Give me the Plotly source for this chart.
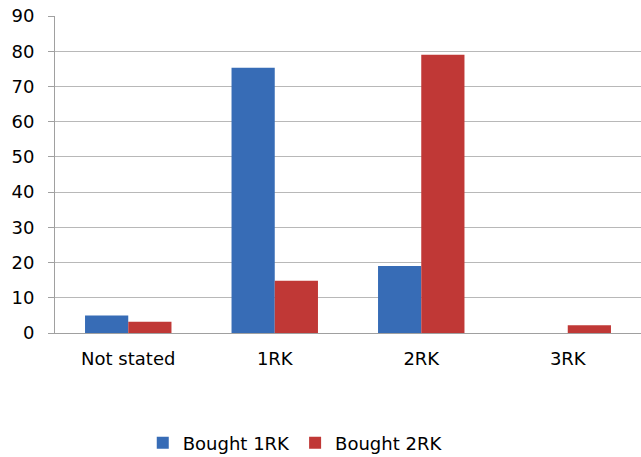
import plotly.graph_objects as go

categories = ["Not stated", "1RK", "2RK", "3RK"]
bought_1rk = [5, 75.3, 19, 0]
bought_2rk = [3.2, 14.8, 79, 2.2]

fig = go.Figure()
fig.add_trace(go.Bar(x=categories, y=bought_1rk, name="Bought 1RK",
                     marker=dict(color="#376cb6", line=dict(width=0))))
fig.add_trace(go.Bar(x=categories, y=bought_2rk, name="Bought 2RK",
                     marker=dict(color="#c03836", line=dict(width=0))))

fig.update_layout(
    width=641, height=457,
    margin=dict(l=55, r=0, t=16, b=124, autoexpand=False),
    paper_bgcolor="white", plot_bgcolor="white",
    barmode="group", bargap=0.41, bargroupgap=0,
    font=dict(family="DejaVu Sans", size=18, color="#000000"),
    showlegend=True,
    legend=dict(orientation="h", x=0.41, xanchor="center", y=-0.347, yanchor="middle",
                font=dict(size=18), itemwidth=30, traceorder="normal"),
    xaxis=dict(showline=True, linecolor="#a0a0a0", linewidth=1, ticks="",
               tickfont=dict(size=18), showgrid=False, ticklabelstandoff=9,
               automargin=False),
    yaxis=dict(range=[0, 90], dtick=10, showline=True, linecolor="#a0a0a0", linewidth=1,
               ticks="outside", ticklen=6, tickcolor="#a0a0a0",
               showgrid=True, gridcolor="#b8b8b8", gridwidth=1,
               tickfont=dict(size=18), zeroline=False, ticklabelstandoff=10,
               automargin=False),
)

fig.write_html("out.html")
